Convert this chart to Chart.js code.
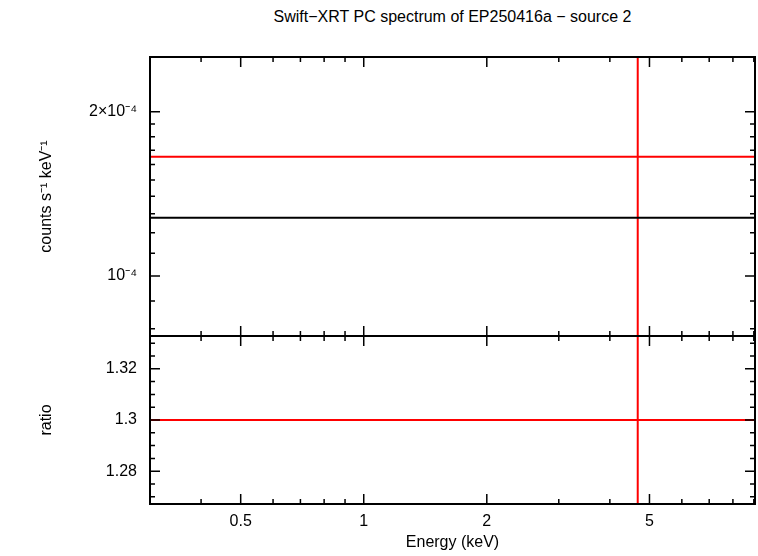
<!DOCTYPE html>
<html><head><meta charset="utf-8">
<script src="https://cdn.jsdelivr.net/npm/chart.js@4"></script>
<style>
body{margin:0;background:#fff;width:758px;height:556px;position:relative;overflow:hidden;font-family:"Liberation Sans",Arial,sans-serif}
canvas{position:absolute;left:0}
#t{position:absolute;top:8px;left:150px;width:605px;text-align:center;font-size:16px}
</style></head><body>
<div id="t">Swift−XRT PC spectrum of EP250416a − source 2</div>
<div style="position:absolute;left:0;top:0;width:758px;height:340px"><canvas id="c1"></canvas></div>
<div style="position:absolute;left:0;top:335px;width:758px;height:221px"><canvas id="c2"></canvas></div>
<script>
const xRange=[0.3,9.06];
const xMajor=[0.5,1,2,5];
const xMinor=[0.3,0.4,0.6,0.7,0.8,0.9,3,4,6,7,8,9];
const dataE=[4.68], dataELo=[0.3], dataEHi=[10];
const dataRate=[1.654e-4], dataRateLo=[1e-6], dataRateHi=[1e-2];
const modelRate=[1.278e-4];
const dataRatio=[1.3], dataRatioLo=[1.0], dataRatioHi=[1.6];
const yTopRange=[7.76e-5,2.52e-4];
const yTopMajor=[1e-4,2e-4];
const yTopMinor=[8e-5,9e-5,1.1e-4,1.2e-4,1.3e-4,1.4e-4,1.5e-4,1.6e-4,1.7e-4,1.8e-4,1.9e-4];
const yTopLabels=["10⁻⁴","2×10⁻⁴"];
const yBotRange=[1.2672,1.3328];
const yBotMajor=[1.28,1.30,1.32];
const yBotMinor=[1.27,1.275,1.285,1.29,1.295,1.305,1.31,1.315,1.325,1.33];
const yBotLabels=["1.28","1.3","1.32"];
Chart.defaults.font.family='"Liberation Sans",Arial,sans-serif';
Chart.defaults.font.size=16;Chart.defaults.color='#000';
function ticksPlugin(yMaj,yMin){return{id:'tk',afterDatasetsDraw(ch){
 const c=ch.ctx,a=ch.chartArea,x=ch.scales.x,y=ch.scales.y;c.save();c.strokeStyle='#000';c.lineWidth=1.5;c.beginPath();
 const tx=(v,l)=>{const p=x.getPixelForValue(v);c.moveTo(p,a.top);c.lineTo(p,a.top+l);c.moveTo(p,a.bottom);c.lineTo(p,a.bottom-l);};
 xMajor.forEach(v=>tx(v,10));xMinor.forEach(v=>tx(v,5));
 const ty=(v,l)=>{const p=y.getPixelForValue(v);c.moveTo(a.left,p);c.lineTo(a.left+l,p);c.moveTo(a.right,p);c.lineTo(a.right-l,p);};
 yMaj.forEach(v=>ty(v,10));yMin.forEach(v=>ty(v,5));c.stroke();
 c.lineWidth=2;c.strokeRect(a.left,a.top,a.right-a.left,a.bottom-a.top);c.restore();}}}
function seg(xs,ys){return xs.map((v,i)=>({x:v,y:ys[i]}));}
function ds(pts,col){return{data:pts,borderColor:col,borderWidth:2,pointRadius:0,showLine:true,fill:false};}
function xScale(show){return{type:'logarithmic',min:xRange[0],max:xRange[1],
 afterBuildTicks:s=>{s.ticks=xMajor.map(v=>({value:v}))},
 ticks:{display:show,callback:v=>String(v),maxRotation:0,autoSkip:false,padding:8},
 grid:{display:false,drawTicks:false},border:{display:false},
 title:{display:show,text:'Energy (keV)',padding:{top:0}},
 afterFit:s=>{s.height=show?52:0;s.paddingLeft=0;s.paddingRight=0;s.paddingTop=0;s.paddingBottom=0;}};}
function yScale(type,r,maj,labs,title){return{type:type,min:r[0],max:r[1],
 afterBuildTicks:s=>{s.ticks=maj.map(v=>({value:v}))},
 ticks:{callback:(v,i)=>labs[i],padding:13,autoSkip:false},
 grid:{display:false,drawTicks:false},border:{display:false},
 title:{display:true,text:title,padding:{top:37,bottom:0}},
 afterFit:s=>{s.width=150;s.paddingTop=0;s.paddingBottom=0;s.paddingLeft=0;s.paddingRight=0;}};}
const common={responsive:true,maintainAspectRatio:false,animation:false,plugins:{legend:{display:false},tooltip:{enabled:false}}};
new Chart(document.getElementById('c1'),{type:'scatter',data:{datasets:[
 ds(seg([xRange[0],10],[modelRate[0],modelRate[0]]),'#000'),
 ds(seg([dataELo[0],dataEHi[0]],[dataRate[0],dataRate[0]]),'#ff0000'),
 ds(seg([dataE[0],dataE[0]],[dataRateLo[0],dataRateHi[0]]),'#ff0000')]},
 options:{...common,layout:{padding:{top:57,right:3,bottom:4,left:0}},
 scales:{x:xScale(false),y:yScale('logarithmic',yTopRange,yTopMajor,yTopLabels,'counts s⁻¹ keV⁻¹')}},
 plugins:[ticksPlugin(yTopMajor,yTopMinor)]});
new Chart(document.getElementById('c2'),{type:'scatter',data:{datasets:[
 ds(seg([dataELo[0],dataEHi[0]],[dataRatio[0],dataRatio[0]]),'#ff0000'),
 ds(seg([dataE[0],dataE[0]],[dataRatioLo[0],dataRatioHi[0]]),'#ff0000')]},
 options:{...common,layout:{padding:{top:1,right:3,bottom:0,left:0}},
 scales:{x:xScale(true),y:yScale('linear',yBotRange,yBotMajor,yBotLabels,'ratio')}},
 plugins:[ticksPlugin(yBotMajor,yBotMinor)]});
</script></body></html>
